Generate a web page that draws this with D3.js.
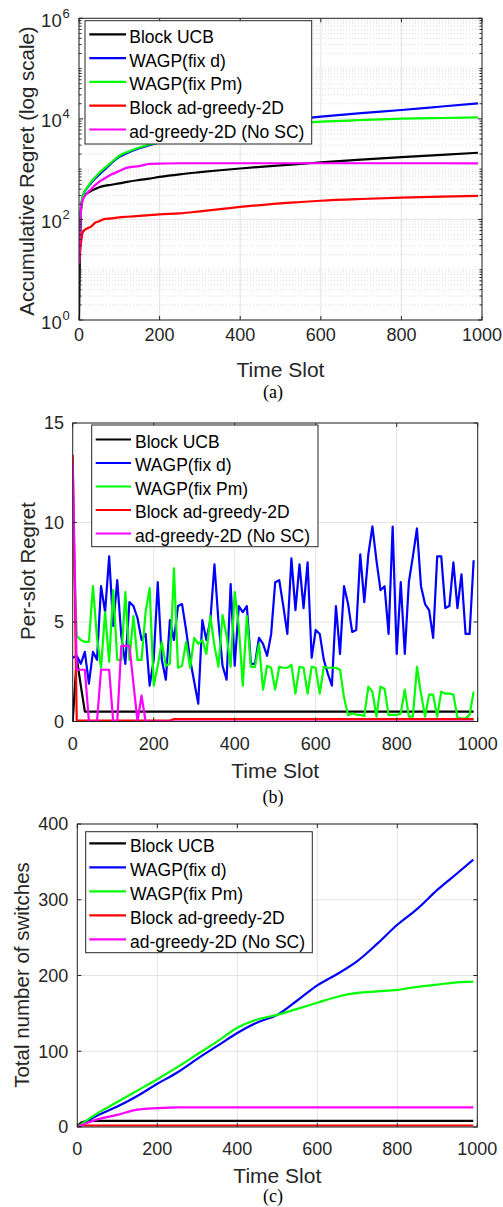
<!DOCTYPE html>
<html><head><meta charset="utf-8">
<script src="https://cdn.jsdelivr.net/npm/d3@7"></script>
<style>
body{margin:0;background:#fff}
svg{display:block}
text{font-family:"Liberation Sans",Arial,Helvetica,sans-serif;fill:#262626}
</style>
</head><body>
<svg id="chart" width="503" height="1207"></svg>
<script>
// ---------- shared ----------
const seriesNames = ["Block UCB","WAGP(fix d)","WAGP(fix Pm)","Block ad-greedy-2D","ad-greedy-2D (No SC)"];
const seriesColors = ["#000000","#0000ff","#00ff00","#ff0000","#ff00ff"];
const xTicks = [0,200,400,600,800,1000];

// ---------- (a) accumulative regret, log scale ----------
const tA = [0,5,10,20,30,40,50,60,80,100,120,150,175,200,250,300,350,400,450,500,550,600,700,800,900,990];
const aBlack   = [1,150,280,330,370,405,437,460,490,520,560,610,650,700,790,870,950,1030,1110,1190,1270,1360,1540,1730,1930,2120];
const aBlue    = [13,170,300,420,530,650,780,920,1300,1750,2100,2600,3000,3400,4300,5300,6300,7300,8300,9200,10200,11100,13000,15000,17600,20300];
const aGreen   = [13,170,300,430,560,690,840,990,1360,1850,2200,2700,3100,3400,4200,5000,5800,6500,7200,7800,8300,8800,9500,10100,10400,10700];
const aRed     = [13,35,57,66,72,86,92,100,105,110,113,118,122,126,132,145,160,177,193,209,222,235,255,272,285,295];
const aMagenta = [13,160,250,330,400,480,560,630,780,920,1070,1150,1270,1290,1310,1310,1310,1310,1310,1310,1310,1310,1310,1310,1310,1300];
const yTicksA = [1,100,10000,1000000];
const yTickExpA = ["0","2","4","6"];

// ---------- (b) per-slot regret ----------
const slotsB = [0,10,20,30,40,50,60,70,80,90,100,110,120,130,140,150,160,170,180,190,
 200,210,220,230,240,250,260,270,280,290,300,310,320,330,340,350,360,370,380,390,
 400,410,420,430,440,450,460,470,480,490,500,510,520,530,540,550,560,570,580,590,
 600,610,620,630,640,650,660,670,680,690,700,710,720,730,740,750,760,770,780,790,
 800,810,820,830,840,850,860,870,880,890,900,910,920,930,940,950,960,970,980,990];
const bBlue = [3.2,3.3,2.9,3.5,1.9,3.5,3.1,6.8,5.5,8.3, 4.8,7.1,4.3,2.9,6.0,5.8,5.2,4.1,4.4,1.8,
 3.1,7.0,3.1,2.1,5.1,4.1,5.8,5.9,4.6,3.1, 2.0,0.9,5.1,4.1,5.1,7.9,5.0,2.8,2.1,6.9,
 2.8,5.8,5.5,5.8,2.9,2.9,4.2,3.9,3.3,4.4, 7.0,7.1,5.8,4.4,8.2,5.6,7.9,5.7,8.0,3.2,
 4.6,4.4,3.1,2.4,1.8,5.8,3.4,6.8,5.9,4.5, 4.6,8.4,6.0,8.4,9.8,8.1,6.6,6.8,4.4,9.8,
 3.4,7.0,3.4,7.0,8.3,9.7,6.8,5.9,5.6,4.2, 8.3,8.3,5.7,5.8,8.0,5.7,7.4,4.4,4.4,8.1];
const bGreen = [10.0,4.3,4.1,4.0,4.0,6.8,4.2,2.7,5.5,3.0, 6.6,3.1,3.1,6.5,3.1,5.3,3.1,3.1,5.5,6.7,
 1.8,2.8,4.0,2.8,2.9,7.7,2.7,2.8,4.0,2.7, 4.2,3.9,4.1,3.4,5.3,3.8,2.75,5.35,4.3,2.75,
 6.5,4.8,1.8,5.3,2.75,2.75,3.9,1.6,2.8,2.7, 1.6,2.75,2.7,2.7,2.85,1.4,2.75,2.7,1.4,2.75,
 2.7,1.4,2.75,2.7,2.7,2.7,2.6,1.2,0.33,0.4, 0.35,0.33,0.28,1.75,1.5,0.25,1.75,1.65,0.33,0.33,
 0.33,0.4,1.6,0.25,0.25,2.75,1.4,0.25,1.35,1.35, 0.25,1.5,1.4,1.4,1.35,0.2,0.15,0.15,0.33,1.5];
const bBlackT = [0,10,20,30,990];
const bBlack  = [0,3.2,1.8,0.5,0.5];
const bRedT   = [0,10,240,250,990];
const bRed    = [13.4,0.05,0.05,0.12,0.12];
const bMagT   = [0,10,20,30,40,50,60,70,80,90,100,110,120,130,140,150,160,170,180,990];
const bMag    = [13.0,2.6,2.6,2.6,0,0,0,2.6,2.6,2.6,0,0,3.8,3.8,3.8,1.9,0,1.3,0,0];
const yTicksB = [0,5,10,15];

// ---------- (c) total number of switches ----------
const tC = [0,50,100,150,200,250,300,350,400,450,500,550,600,650,700,750,800,850,900,950,990];
const cBlue  = [0,15,27,41,57,72,90,107,124,138,148,167,187,202,219,242,267,288,313,335,353];
const cGreen = [0,18,33,48,63,79,96,113,131,142,148,156,164,172,177,179,181,185,188,191,192];
const cMag   = [0,10,16,23,25,26,26,26,26,26,26,26,26,26,26,26,26,26,26,26,26];
const cBlackT = [0,10,30,990];
const cBlack  = [0,6,8,8];
const cRedT   = [0,10,990];
const cRed    = [0,2,2];
const yTicksC = [0,100,200,300,400];

const svg = d3.select("#chart");
const AX = "#262626";

function panel(cfg, idx) {
  const x = d3.scaleLinear().domain([0,1000]).range([cfg.left, cfg.right]);
  const y = cfg.y;
  const g = svg.append("g");
  const W = cfg.right - cfg.left, H = cfg.bottom - cfg.top;

  if (cfg.minor) {
    g.selectAll(null).data(cfg.minor).join("line")
      .attr("x1", cfg.left).attr("x2", cfg.right)
      .attr("y1", d => y(d)).attr("y2", d => y(d))
      .attr("stroke", "#cfcfcf").attr("stroke-width", 0.7).attr("stroke-dasharray", "1,2");
  }
  g.selectAll(null).data(xTicks).join("line")
    .attr("x1", d => x(d)).attr("x2", d => x(d))
    .attr("y1", cfg.top).attr("y2", cfg.bottom)
    .attr("stroke", "#e3e3e3").attr("stroke-width", 1);
  g.selectAll(null).data(cfg.yTicks).join("line")
    .attr("x1", cfg.left).attr("x2", cfg.right)
    .attr("y1", d => y(d)).attr("y2", d => y(d))
    .attr("stroke", "#e3e3e3").attr("stroke-width", 1);

  const clipId = "clip" + idx;
  svg.append("clipPath").attr("id", clipId).append("rect")
    .attr("x", cfg.left).attr("y", cfg.top - 1).attr("width", W).attr("height", H + 1);
  const lg = g.append("g").attr("clip-path", `url(#${clipId})`);
  cfg.series.forEach((s, i) => {
    const pts = s.t.map((t, k) => [t, s.v[k]]);
    const line = d3.line().x(d => x(d[0])).y(d => y(d[1]));
    if (cfg.smooth) line.curve(d3.curveMonotoneX);
    lg.append("path").attr("d", line(pts)).attr("fill", "none")
      .attr("stroke", seriesColors[i]).attr("stroke-width", 2.2)
      .attr("stroke-linejoin", "round");
  });

  g.append("rect").attr("x", cfg.left).attr("y", cfg.top).attr("width", W).attr("height", H)
    .attr("fill", "none").attr("stroke", AX).attr("stroke-width", 1);
  const tl = 4;
  xTicks.forEach(d => {
    g.append("line").attr("x1", x(d)).attr("x2", x(d)).attr("y1", cfg.bottom).attr("y2", cfg.bottom - tl).attr("stroke", AX);
    g.append("line").attr("x1", x(d)).attr("x2", x(d)).attr("y1", cfg.top).attr("y2", cfg.top + tl).attr("stroke", AX);
    g.append("text").attr("x", x(d)).attr("y", cfg.xTickBase).attr("text-anchor", "middle")
      .attr("font-size", 18).text(d);
  });
  cfg.yTicks.forEach(d => {
    g.append("line").attr("x1", cfg.left).attr("x2", cfg.left + tl).attr("y1", y(d)).attr("y2", y(d)).attr("stroke", AX);
    g.append("line").attr("x1", cfg.right).attr("x2", cfg.right - tl).attr("y1", y(d)).attr("y2", y(d)).attr("stroke", AX);
  });
  if (cfg.minor) {
    cfg.minor.forEach(d => {
      g.append("line").attr("x1", cfg.left).attr("x2", cfg.left + 2.5).attr("y1", y(d)).attr("y2", y(d)).attr("stroke", AX);
      g.append("line").attr("x1", cfg.right).attr("x2", cfg.right - 2.5).attr("y1", y(d)).attr("y2", y(d)).attr("stroke", AX);
    });
  }
  if (cfg.exps) {
    cfg.yTicks.forEach((d, k) => {
      g.append("text").attr("x", cfg.left - 17.3).attr("y", y(d) + 8.5).attr("text-anchor", "end")
        .attr("font-size", 18.5).text("10");
      g.append("text").attr("x", cfg.left - 16.5).attr("y", y(d) - 0.5)
        .attr("font-size", 13).text(cfg.exps[k]);
    });
  } else {
    cfg.yTicks.forEach(d => {
      g.append("text").attr("x", cfg.yLabRight).attr("y", y(d) + 6.4).attr("text-anchor", "end")
        .attr("font-size", 18).text(d);
    });
  }
  g.append("text").attr("x", (cfg.left + cfg.right) / 2).attr("y", cfg.xLabBase)
    .attr("text-anchor", "middle").attr("font-size", 21).text("Time Slot");
  g.append("text").attr("transform", `translate(${cfg.yLabX},${cfg.yLabY}) rotate(-90)`)
    .attr("text-anchor", "middle").attr("font-size", 20.5).text(cfg.ylabel);
  g.append("text").attr("x", 273).attr("y", cfg.capBase).attr("text-anchor", "middle")
    .style("font-family", "'Liberation Serif','Times New Roman',serif").style("fill", "#000")
    .attr("font-size", 18).text(cfg.caption);

  const L = cfg.legend;
  g.append("rect").attr("x", L.x0).attr("y", L.y0).attr("width", L.x1 - L.x0).attr("height", L.y1 - L.y0)
    .attr("fill", "#fff").attr("stroke", AX).attr("stroke-width", 1);
  seriesNames.forEach((n, i) => {
    const ly = L.lineY + L.step * i;
    g.append("line").attr("x1", L.lx0).attr("x2", L.lx1).attr("y1", ly).attr("y2", ly)
      .attr("stroke", seriesColors[i]).attr("stroke-width", 2.2);
    g.append("text").attr("x", L.tx).attr("y", ly + 8.4).attr("font-size", 17.5)
      .style("fill", "#000").text(n);
  });
}

const minorA = [];
[1,10,100,1000,10000,100000].forEach(b => { for (let m = 2; m <= 9; m++) minorA.push(b * m); });
[10,1000,100000].forEach(v => minorA.push(v));

panel({
  left: 79, right: 482, top: 18.3, bottom: 320, smooth: true,
  y: d3.scaleLog().domain([1, 1e6]).range([320, 18.3]),
  yTicks: yTicksA, exps: yTickExpA, minor: minorA,
  xTickBase: 341, xLabBase: 376.7, yLabX: 34, yLabY: 171, ylabel: "Accumulative Regret (log scale)",
  capBase: 397.5, caption: "(a)",
  legend: {x0: 85, y0: 20.7, x1: 311.7, y1: 144, lx0: 89.3, lx1: 126, tx: 129.3, lineY: 34.3, step: 23.8},
  series: [
    {t: tA, v: aBlack}, {t: tA, v: aBlue}, {t: tA, v: aGreen}, {t: tA, v: aRed}, {t: tA, v: aMagenta}
  ]
}, 0);

panel({
  left: 72.7, right: 477.7, top: 423, bottom: 721.5,
  y: d3.scaleLinear().domain([0, 15]).range([721.5, 423]),
  yTicks: yTicksB, yLabRight: 64,
  xTickBase: 749.5, xLabBase: 778.3, yLabX: 35, yLabY: 571, ylabel: "Per-slot Regret",
  capBase: 803, caption: "(b)",
  legend: {x0: 91.7, y0: 425, x1: 318, y1: 546.7, lx0: 95.7, lx1: 131, tx: 135, lineY: 439.5, step: 23.5},
  series: [
    {t: bBlackT, v: bBlack}, {t: slotsB, v: bBlue}, {t: slotsB, v: bGreen}, {t: bRedT, v: bRed}, {t: bMagT, v: bMag}
  ]
}, 1);

panel({
  left: 77.3, right: 477.3, top: 824, bottom: 1127, smooth: true,
  y: d3.scaleLinear().domain([0, 400]).range([1127, 824]),
  yTicks: yTicksC, yLabRight: 68.3,
  xTickBase: 1154.5, xLabBase: 1182.7, yLabX: 29, yLabY: 975, ylabel: "Total number of switches",
  capBase: 1201.5, caption: "(c)",
  legend: {x0: 85.7, y0: 831.7, x1: 312.3, y1: 952.7, lx0: 89.3, lx1: 126, tx: 130, lineY: 843.3, step: 24},
  series: [
    {t: cBlackT, v: cBlack}, {t: tC, v: cBlue}, {t: tC, v: cGreen}, {t: cRedT, v: cRed}, {t: tC, v: cMag}
  ]
}, 2);
</script>
</body></html>
